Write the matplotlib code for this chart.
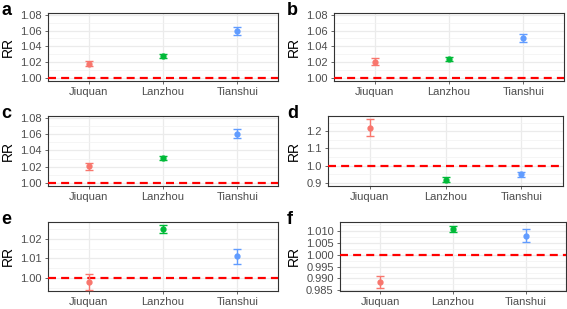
import numpy as np
import matplotlib
matplotlib.use("Agg")
import matplotlib.pyplot as plt
from matplotlib.ticker import MultipleLocator, FormatStrFormatter

plt.rcParams['font.family'] = ['Liberation Sans', 'DejaVu Sans']

cities = ["Jiuquan", "Lanzhou", "Tianshui"]
colors = ["#F8766D", "#00BA38", "#619CFF"]
labels = ["a", "b", "c", "d", "e", "f"]

rr = [
    [1.018, 1.028, 1.059],
    [1.021, 1.024, 1.051],
    [1.021, 1.031, 1.060],
    [1.220, 0.918, 0.948],
    [0.998, 1.025, 1.011],
    [0.9885, 1.011, 1.008],
]
lo = [
    [1.015, 1.026, 1.054],
    [1.017, 1.022, 1.046],
    [1.016, 1.028, 1.055],
    [1.175, 0.905, 0.935],
    [0.994, 1.023, 1.007],
    [0.986, 1.0095, 1.0055],
]
hi = [
    [1.022, 1.030, 1.065],
    [1.025, 1.027, 1.056],
    [1.025, 1.033, 1.066],
    [1.270, 0.930, 0.962],
    [1.002, 1.027, 1.015],
    [0.991, 1.0123, 1.0107],
]
ylims = [(0.9966, 1.082), (0.9966, 1.082), (0.9966, 1.082),
         (0.88, 1.29), (0.9933, 1.0286), (0.9847, 1.0138)]
majors = [0.02, 0.02, 0.02, 0.1, 0.01, 0.005]
fmts = ["%.2f", "%.2f", "%.2f", "%.1f", "%.2f", "%.3f"]

W, H = 567, 309
# axes boxes in pixels: left, top, right, bottom
boxes = [(48, 13, 278, 81), (334, 13, 564, 81),
         (48, 116, 278, 186), (328, 116, 563, 186),
         (48, 222, 278, 291), (340, 222, 566, 291)]
ylab_x = [15, 301, 15, 301, 15, 301]
tag_x = [1, 287, 1, 287, 1, 287]

fig = plt.figure(figsize=(W / 100, H / 100), dpi=100)
for i in range(6):
    l, t, r, b = boxes[i]
    ax = fig.add_axes([l / W, 1 - b / H, (r - l) / W, (b - t) / H])
    x = np.arange(3)
    ax.axhline(1.0, color="#FF0000", ls=(0, (3.6, 2.3)), lw=1.6, zorder=3)
    for j in range(3):
        ax.errorbar(x[j], rr[i][j],
                    yerr=[[rr[i][j] - lo[i][j]], [hi[i][j] - rr[i][j]]],
                    fmt="o", color=colors[j], ms=3.5, capsize=3, elinewidth=1,
                    capthick=1, zorder=4)
    ax.set_xlim(-0.55, 2.55)
    ax.set_ylim(*ylims[i])
    ax.set_xticks(x)
    ax.set_xticklabels(cities)
    ax.yaxis.set_major_locator(MultipleLocator(majors[i]))
    ax.yaxis.set_minor_locator(MultipleLocator(majors[i] / 2))
    ax.yaxis.set_major_formatter(FormatStrFormatter(fmts[i]))
    ax.grid(which="major", color="#EBEBEB", lw=0.9)
    ax.grid(which="minor", axis="y", color="#F2F2F2", lw=0.5)
    ax.set_axisbelow(True)
    for s in ax.spines.values():
        s.set_color("#333333")
        s.set_linewidth(0.8)
    ax.tick_params(labelsize=8, colors="#4D4D4D", length=2.5, width=0.6,
                   pad=2, which="major")
    ax.tick_params(which="minor", length=0)
    ax.set_ylabel("RR", fontsize=10)
    ax.yaxis.set_label_coords((ylab_x[i] - l) / (r - l), 0.5)
    fig.text(tag_x[i] / W, 1 - (t - 11) / H, labels[i], fontsize=13,
             fontweight="bold", va="top", ha="left")

fig.savefig("out.png", dpi=100)
